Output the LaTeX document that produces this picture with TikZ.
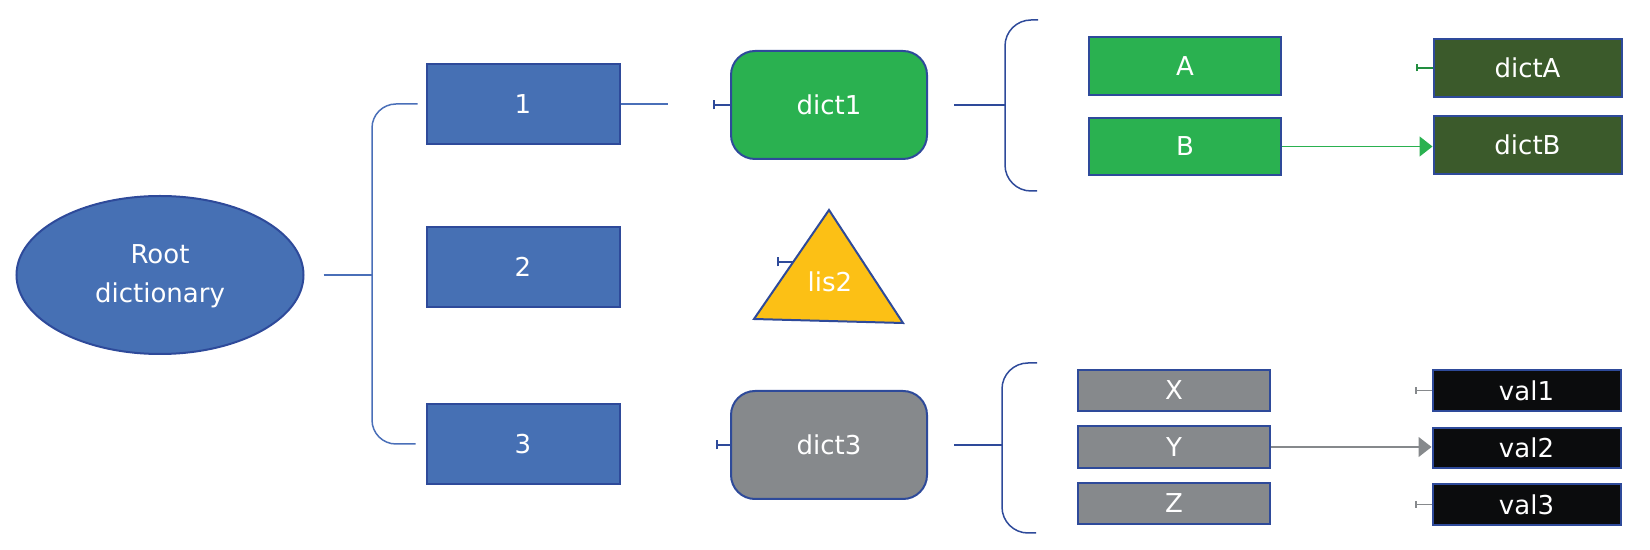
\documentclass[tikz,border=0pt]{standalone}
\usepackage{fontspec}
\setmainfont{DejaVu Sans}
\usetikzlibrary{shapes.geometric,arrows.meta}
\definecolor{blueF}{HTML}{4670B4}
\definecolor{blueB}{HTML}{2E4A9A}
\definecolor{lineB}{HTML}{4A6FB8}
\definecolor{greenF}{HTML}{2AB150}
\definecolor{dgreenF}{HTML}{3B5A2B}
\definecolor{yellowF}{HTML}{FCC015}
\definecolor{grayF}{HTML}{86898C}
\definecolor{blackF}{HTML}{0B0C0D}
\tikzset{
  base/.style={draw=blueB, line width=1pt, text=white, inner sep=0pt, font=\fontsize{13}{20}\selectfont, align=center},
  bluebox/.style={base, rectangle, fill=blueF, minimum width=96.5pt, minimum height=40pt},
  dictbox/.style={base, rectangle, rounded corners=12pt, minimum width=98pt, minimum height=54pt},
  keybox/.style={base, rectangle, minimum width=96pt},
  valbox/.style={base, rectangle, minimum width=94pt},
  conn/.style={draw=lineB, line width=0.75pt},
  brk/.style={draw=blueB, line width=0.75pt, rounded corners=13pt},
  tbar/.style={line width=0.75pt, {Bar[width=4.5pt,line width=0.9pt]}-},
}
\begin{document}
\begin{tikzpicture}[x=0.5pt,y=-0.5pt]
\useasboundingbox (0,0) rectangle (1650,550);
% nodes
\node[base, ellipse, fill=blueF, minimum width=143.5pt, minimum height=79pt] (root) at (160,275) {\raisebox{-3pt}{\begin{tabular}{@{}c@{}}Root\\[-0.5pt]dictionary\end{tabular}}};
\node[bluebox] (b1) at (523,104) {1};
\node[bluebox] (b2) at (523,267) {2};
\node[bluebox] (b3) at (523,444) {3};
\node[dictbox, fill=greenF] (dict1) at (829,105) {dict1};
\node[dictbox, fill=grayF] (dict3) at (829,445) {dict3};
% triangle lis2
\coordinate (ta) at (829,210);
\coordinate (tl) at (754,319);
\coordinate (tr) at (903,323);
\filldraw[fill=yellowF, draw=blueB, line width=1pt, line join=miter] (ta) -- (tl) -- (tr) -- cycle;
\node[text=white, font=\fontsize{13}{15}\selectfont, inner sep=0pt] (lis2) at (830,282) {lis2};
\coordinate (lis2w) at (794,262);
\coordinate (t2) at (777,262);
% keys
\node[keybox, fill=greenF, minimum height=29pt] (A) at (1185,66) {A};
\node[keybox, fill=greenF, minimum height=28.5pt] (B) at (1185,146.5) {B};
\node[valbox, fill=dgreenF, minimum height=29pt] (dictA) at (1527.5,68) {dictA};
\node[valbox, fill=dgreenF, minimum height=29pt] (dictB) at (1527.5,145) {dictB};
\node[keybox, fill=grayF, minimum height=20.5pt] (X) at (1174,390.5) {X};
\node[keybox, fill=grayF, minimum height=21pt] (Y) at (1174,447) {Y};
\node[keybox, fill=grayF, minimum height=20.5pt] (Z) at (1174,503.5) {Z};
\node[valbox, fill=blackF, minimum height=20.5pt] (val1) at (1526.5,390.5) {val1};
\node[valbox, fill=blackF, minimum height=20pt] (val2) at (1526.5,448) {val2};
\node[valbox, fill=blackF, minimum height=20.5pt] (val3) at (1526.5,504.5) {val3};
% root bracket
\coordinate (rj) at (372,275);
\draw[conn, shorten <=9.5pt] (root.east) -- (rj);
\draw[conn, rounded corners=12pt, shorten <=4pt, shorten >=5pt] (b1.west) -| (rj) |- (b3.west);
% box1 -> dict1
\coordinate (c1) at (668,104);
\draw[conn] (b1.east) -- (c1);
\coordinate (t1) at (713,105);
\draw[conn, tbar, draw=blueB] (t1) -- (dict1.west |- t1);
% lis2
\draw[conn, tbar, draw=blueB] (t2) -- (lis2w);
% dict3
\coordinate (t3) at (716,445);
\draw[conn, tbar, draw=blueB] (t3) -- (dict3.west);
% right bracket 1
\coordinate (br1) at (1005,105);
\coordinate (br1t) at (1038,20);
\coordinate (br1b) at (1037,191);
\draw[conn, draw=blueB, shorten <=13pt] (dict1.east) -- (dict1.east -| br1);
\draw[brk] (br1t) -| (br1) |- (br1b);
% right bracket 2
\coordinate (br3) at (1002,445);
\coordinate (br3t) at (1037,363);
\coordinate (br3b) at (1036,533);
\draw[conn, draw=blueB, shorten <=13pt] (dict3.east) -- (br3);
\draw[brk] (br3t) -| (br3) |- (br3b);
% value links
\coordinate (tA) at (1416,68);
\draw[draw=greenF!80!black, line width=0.75pt, {Bar[width=3.5pt,line width=0.8pt]}-] (tA) -- (dictA.west);
\draw[draw=greenF, line width=0.75pt, -{Triangle[width=10pt,length=6.5pt]}] (B.east) -- (dictB.west |- B.east);
\coordinate (tv1) at (1415,390.5);
\coordinate (tv3) at (1415,504.5);
\draw[draw=grayF, line width=0.75pt, {Bar[width=3.5pt,line width=0.8pt]}-] (tv1) -- (val1.west);
\draw[draw=grayF, line width=0.75pt, {Bar[width=3.5pt,line width=0.8pt]}-] (tv3) -- (val3.west);
\draw[draw=grayF, line width=0.75pt, -{Triangle[width=10pt,length=6.5pt]}] (Y.east) -- (val2.west |- Y.east);
\end{tikzpicture}
\end{document}
